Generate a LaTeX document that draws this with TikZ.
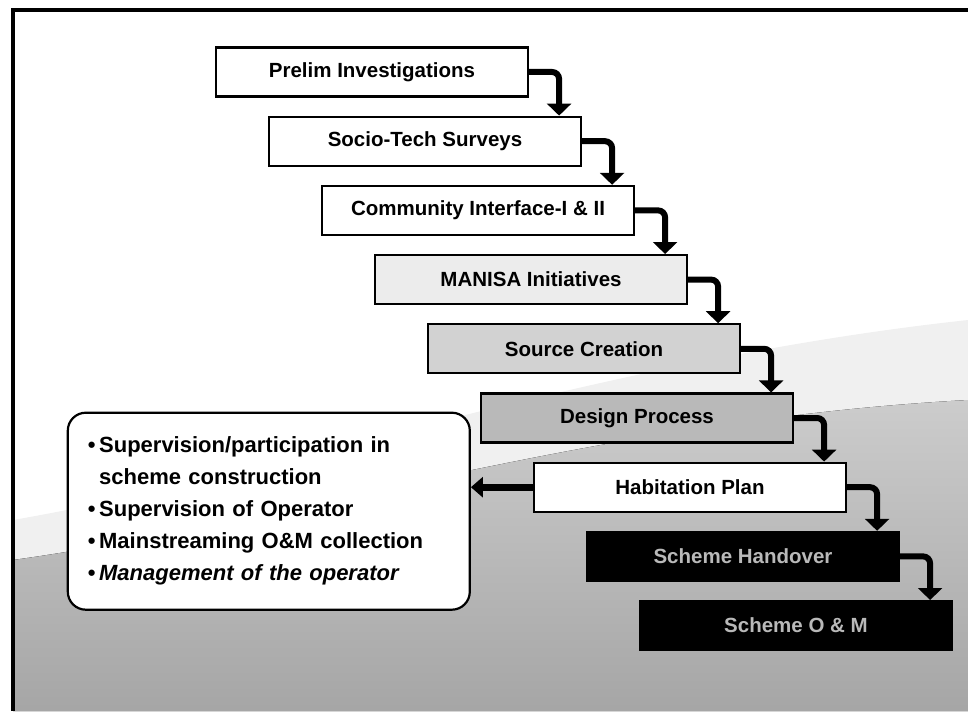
\documentclass[tikz,border=0pt]{standalone}
\usepackage{fontspec}
\setmainfont{Liberation Sans}
\usetikzlibrary{positioning,arrows.meta}

\begin{document}
\begin{tikzpicture}[x=1pt,y=1pt,node distance=18pt,
 st/.style={draw,line width=2.2pt,minimum width=312pt,minimum height=49pt,font=\bfseries\fontsize{20.5}{24}\selectfont},
 nt/.style={draw,line width=2.2pt,rounded corners=18pt,fill=white,text width=362pt,inner xsep=20pt,minimum height=197pt,align=left,font=\bfseries\fontsize{22}{32}\selectfont},
 ar/.style={line width=6pt,rounded corners=7pt,-{Triangle[width=24pt,length=12pt]}},
 lf/.style={line width=7pt,-{Triangle[width=20pt,length=12pt]}}]
\useasboundingbox (0,0) rectangle (968,-714);
\fill[gray!12] (13,-520) .. controls (300,-470) and (600,-360) .. (968,-320) -- (968,-711) -- (13,-711) -- cycle;
\fill[top color=gray!40,bottom color=gray!70] (13,-560) .. controls (300,-520) and (600,-420) .. (968,-400) -- (968,-711) -- (13,-711) -- cycle;
\draw[line width=3.5pt] (968,-10) -- (13,-10) -- (13,-711);
\node[st,fill=white] at (372,-72) (p1) {Prelim Investigations};
\node[st,fill=white,below=of p1,xshift=53pt] (p2) {Socio-Tech Surveys};
\node[st,fill=white,below=of p2,xshift=53pt] (p3) {Community Interface-I \& II};
\node[st,fill=gray!15,below=of p3,xshift=53pt] (p4) {MANISA Initiatives};
\node[st,fill=gray!35,below=of p4,xshift=53pt] (p5) {Source Creation};
\node[st,fill=gray!55,below=of p5,xshift=53pt] (p6) {Design Process};
\node[st,fill=white,below=of p6,xshift=53pt] (p7) {Habitation Plan};
\node[st,fill=black,text=gray!55,below=of p7,xshift=53pt] (p8) {Scheme Handover};
\node[st,fill=black,text=gray!55,below=of p8,xshift=53pt] (p9) {Scheme O \& M};
\node[nt,left=62pt of p7,yshift=-24pt] (notes) {%
 \textbullet\,Supervision/participation in\\
 \phantom{\textbullet\,}scheme construction\\
 \textbullet\,Supervision of Operator\\
 \textbullet\,Mainstreaming O\&M collection\\
 \textbullet\,\textit{Management of the operator}};
\foreach \i/\j in {p1/p2,p2/p3,p3/p4,p4/p5,p5/p6,p6/p7,p7/p8,p8/p9}
 \draw[ar] (\i.east) -| ([xshift=30pt]\i.east |- \j.north);
\draw[lf] (p7.west) -- (notes.east |- p7.west);
\end{tikzpicture}
\end{document}
